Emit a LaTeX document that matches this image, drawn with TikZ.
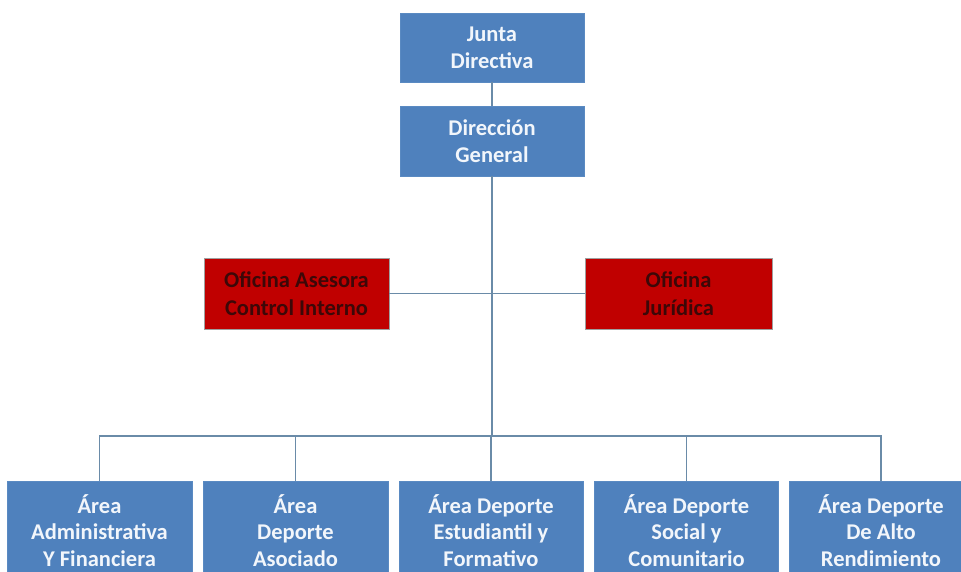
\documentclass[tikz,border=0pt]{standalone}
\usepackage{fontspec}
\setmainfont{Carlito}
\definecolor{boxblue}{HTML}{4F81BD}
\definecolor{boxblueline}{HTML}{5A8AC2}
\definecolor{boxred}{HTML}{C00000}
\definecolor{redtext}{HTML}{3C0808}
\definecolor{conn}{HTML}{6A8BA8}
\definecolor{bluetext}{HTML}{F2F6FB}
\tikzset{
  bluebox/.style={draw=boxblueline, line width=0.8pt, fill=boxblue, text=bluetext,
    font=\fontsize{22.5}{26.7}\selectfont\bfseries, align=center, inner sep=0pt},
  redbox/.style={draw=gray!75, line width=0.8pt, fill=boxred, text=redtext,
    font=\fontsize{22.5}{27.5}\selectfont\bfseries, align=center, inner sep=0pt},
  conline/.style={draw=conn, line width=1.3pt}
}
\begin{document}
\begin{tikzpicture}[x=1pt,y=-1pt]
\useasboundingbox (0,0) rectangle (961,571);
\clip (0,0) rectangle (961,571);
\fill[white] (0,0) rectangle (961,571);
\node[bluebox, minimum width=184pt, minimum height=69pt] (jd) at (492,47.5) {Junta\\Directiva};
\node[bluebox, minimum width=184pt, minimum height=70pt] (dg) at (492,141) {Dirección\\General};
\node[redbox, minimum width=185pt, minimum height=71pt] (ol) at (296.5,293.5) {Oficina Asesora\\Control Interno};
\node[redbox, minimum width=187pt, minimum height=71pt] (or) at (678.5,293.5) {Oficina\\Jurídica};
\coordinate (bar) at (492,436);
\node[bluebox, minimum width=185pt, minimum height=99pt] (b1) at (99.5,530.5) {Área\\Administrativa\\Y Financiera};
\node[bluebox, minimum width=185pt, minimum height=99pt] (b2) at (295.5,530.5) {Área\\Deporte\\Asociado};
\node[bluebox, minimum width=184pt, minimum height=99pt] (b3) at (491,530.5) {Área Deporte\\Estudiantil y\\Formativo};
\node[bluebox, minimum width=184pt, minimum height=99pt] (b4) at (686.5,530.5) {Área Deporte\\Social y\\Comunitario};
\node[bluebox, minimum width=184pt, minimum height=99pt] (b5) at (881,530.5) {Área Deporte\\De Alto\\Rendimiento};
\draw[conline] (jd) -- (dg);
\draw[conline] (dg) -- (bar);
\draw[conline] (ol.east) -- (or.west);
\draw[conline] (b1.north) -- (b1.north |- bar) -- (b5.north |- bar) -- (b5.north);
\draw[conline] (b2.north) -- (b2.north |- bar);
\draw[conline] (b3.north) -- (b3.north |- bar);
\draw[conline] (b4.north) -- (b4.north |- bar);
\end{tikzpicture}
\end{document}
